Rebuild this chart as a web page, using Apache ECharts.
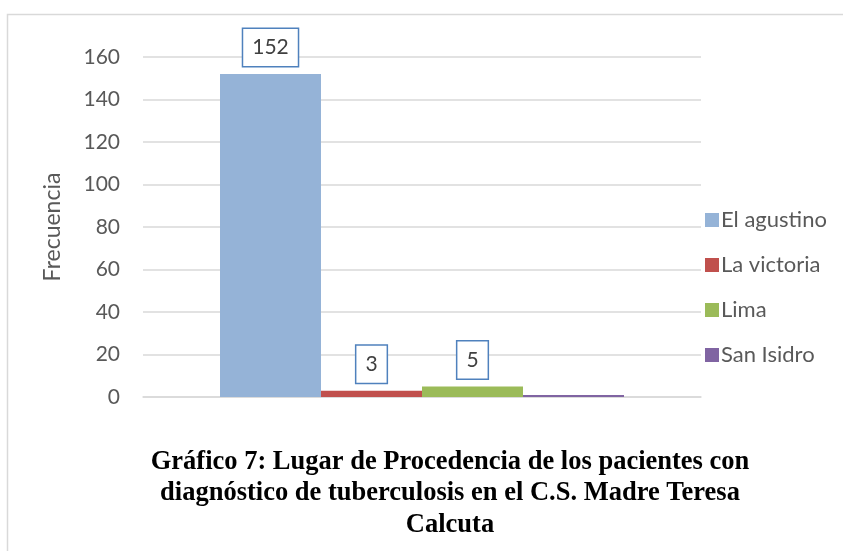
<!DOCTYPE html>
<html><head><meta charset="utf-8">
<script src="https://cdn.jsdelivr.net/npm/echarts@6/dist/echarts.min.js"></script>
<style>html,body{margin:0;padding:0;background:#fff}#c{width:843px;height:551px}</style>
</head><body><div id="c"></div>
<script>
const seriesNames = ['El agustino', 'La victoria', 'Lima', 'San Isidro'];
const seriesValues = [152, 3, 5, 1];
const showLabel = [true, true, true, false];
const colors = ['#95B3D7', '#C0504D', '#9BBB59', '#8064A2'];
const categories = [''];
const yTicks = [0, 20, 40, 60, 80, 100, 120, 140, 160];
const titleText = 'Gráfico 7: Lugar de Procedencia de los pacientes con\ndiagnóstico de tuberculosis en el C.S. Madre Teresa\nCalcuta';
const yName = 'Frecuencia';

const chart = echarts.init(document.getElementById('c'), null, {renderer: 'canvas'});
const font = 'Lato, "Open Sans", sans-serif';
chart.setOption({
  animation: false,
  title: {
    text: titleText,
    left: 445, top: 441, textAlign: 'center',
    textStyle: {fontFamily: '"Liberation Serif", "Times New Roman", serif', fontWeight: 'bold', fontSize: 26.5, lineHeight: 31.5, color: '#000'}
  },
  graphic: [{
    type: 'rect', shape: {x: 7.5, y: 14.5, width: 900, height: 600},
    style: {fill: 'none', stroke: '#d9d9d9', lineWidth: 1.5}, silent: true
  }],
  legend: {
    orient: 'vertical', left: 700, top: 204,
    itemWidth: 14, itemHeight: 14, itemGap: 23,
    icon: 'rect',
    textStyle: {fontFamily: font, fontSize: 22, lineHeight: 22, color: '#595959', padding: [0,0,0,-3]},
    data: seriesNames
  },
  grid: {left: 143, right: 142, top: 57, bottom: 154, containLabel: false},
  xAxis: {
    type: 'category', data: categories,
    axisLine: {lineStyle: {color: '#d9d9d9', width: 1.5}},
    axisTick: {show: false}, axisLabel: {show: false}
  },
  yAxis: {
    type: 'value', min: yTicks[0], max: yTicks[yTicks.length-1], interval: 20,
    name: yName, nameLocation: 'middle', nameRotate: 90, nameGap: 79,
    nameTextStyle: {fontFamily: font, fontSize: 23, color: '#595959'},
    axisLine: {show: false}, axisTick: {show: false},
    axisLabel: {fontFamily: font, fontSize: 21, color: '#595959', margin: 23},
    splitLine: {lineStyle: {color: '#d9d9d9', width: 1.5}}
  },
  series: seriesNames.map((n, i) => ({
    name: n, type: 'bar', data: [seriesValues[i]],
    barGap: '0%', barCategoryGap: '27.6%',
    itemStyle: {color: colors[i]},
    label: {
      show: showLabel[i], position: 'top', distance: 8,
      fontFamily: font, fontSize: 21, color: '#404040',
      backgroundColor: '#fff', borderColor: '#4F81BD', borderWidth: 1.5,
      padding: [8, 9, 8, 9]
    }
  }))
});
</script></body></html>
